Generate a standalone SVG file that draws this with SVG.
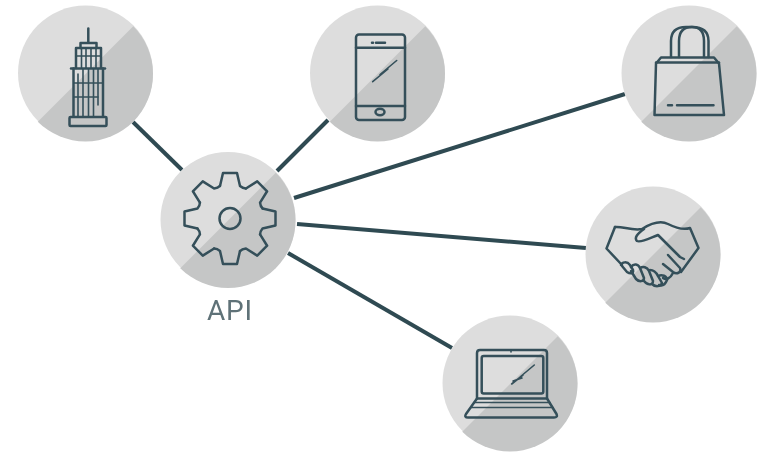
<svg xmlns="http://www.w3.org/2000/svg" xmlns:xlink="http://www.w3.org/1999/xlink" width="761" height="452" viewBox="0 0 761 452">
<style>
.lt{fill:#dddddd}.dk{fill:#c5c6c6}
.ic{fill:none;stroke:#34505a;stroke-width:2.5;stroke-linecap:round;stroke-linejoin:round;filter:url(#soft)}
.thin{stroke-width:1.6}
.conn{stroke:#2f4a52;stroke-width:4;fill:none}
.lbl{font-family:Roboto,"Liberation Sans",sans-serif;font-weight:400;font-size:28px;letter-spacing:.8px;fill:#5f7278;text-anchor:middle;filter:url(#soft)}
</style>
<defs>
<filter id="soft" x="-10%" y="-10%" width="120%" height="120%"><feGaussianBlur stdDeviation="0.5"/></filter>
<clipPath id="disc"><circle r="67.5"/></clipPath>
<g id="bg">
<circle class="lt" r="67.5"/>
<path class="dk" clip-path="url(#disc)" d="M70,-70L-70,70L-70,80L80,80L80,-70Z" transform="translate(0,1)"/>
</g>
<path id="tooth" d="M-10,-32.5L-7,-45.5L7,-45.5L10,-32.5Q13,-30 15.9,-30.1"/>
</defs>
<rect width="761" height="452" fill="#ffffff"/>
<g id="connectors">
<line class="conn" x1="133" y1="122" x2="182" y2="170"/>
<line class="conn" x1="328" y1="120" x2="277" y2="171"/>
<line class="conn" x1="625" y1="94" x2="294" y2="198"/>
<line class="conn" x1="586" y1="248" x2="297" y2="224"/>
<line class="conn" x1="452" y1="348" x2="288" y2="253"/>
</g>
<g id="node-building" transform="translate(85.5,73)"><use href="#bg"/>
<g class="ic" transform="translate(-85.5,-73)">
<path d="M88.3,28.5V42.5"/>
<path d="M80.5,48V43H96.5V48"/>
<path d="M76,68V48H101V68"/>
<path d="M71,68.5H105"/>
<path d="M73.5,68.5V116.5M103,68.5V116.5"/>
<rect x="69.5" y="117" width="37" height="9" rx="1"/>
<g class="thin">
<path d="M81.5,48V68M86,48V68M91,48V68M96,48V68M76,56H101"/>
<path d="M78,74V116M83,69V116M88.5,69V116M93.5,69V116M98,69V105"/>
<path d="M74,83H103M74,97H98"/>
</g></g></g>
<g id="node-phone" transform="translate(377.5,73)"><use href="#bg"/>
<g class="ic" transform="translate(-377.5,-73)">
<rect x="356" y="34.5" width="49" height="85.5" rx="3"/>
<path d="M356,47.7H405M356,106H405"/>
<path d="M372,42.7H373M376,42.7H385"/>
<ellipse cx="380" cy="112" rx="4.5" ry="3.2"/>
<g class="thin"><path d="M372.7,81.7L388,69M380,74.5L396.7,60.5"/></g>
</g></g>
<g id="node-bag" transform="translate(689,73)"><use href="#bg"/>
<g class="ic" transform="translate(-689,-73)">
<path d="M654.5,115L656,63.5L661,57.5H714L719,63.5L724,115Z"/>
<path d="M656,62.5H719"/>
<path d="M671,57V41C671,31 677,27 686,27H692C700,27 704,32 704,41V57"/>
<path d="M679,57V41C679,32 683,27 692,27C703,27 708.5,32 708.5,41V57"/>
<path d="M668,105.3H672M677,105.3H713.5"/>
</g></g>
<g id="node-api" transform="translate(228,219.5)"><use href="#bg"/>
<g class="ic" transform="translate(2,-1)">
<use href="#tooth"/><use href="#tooth" transform="rotate(45)"/><use href="#tooth" transform="rotate(90)"/><use href="#tooth" transform="rotate(135)"/><use href="#tooth" transform="rotate(180)"/><use href="#tooth" transform="rotate(225)"/><use href="#tooth" transform="rotate(270)"/><use href="#tooth" transform="rotate(315)"/>
<circle r="10.5"/>
</g>
<text class="lbl" x="2" y="100">API</text></g>
<g id="node-handshake" transform="translate(653,254)"><use href="#bg"/>
<g class="ic" transform="translate(-653,-254)">
<path d="M615,227L606.5,248.5L622,265"/>
<path d="M615,227C622,226 632,231 642,229C650,224 660,220 668,224C676,228 684,230 690,228L698.5,248L681,272"/>
<path d="M644,229C637,234 634,238 637,241C641,243 650,238 658,235L680,257L684,259"/>
<path d="M668,255L680,268C682,272 677,275 673,272L663,264"/>
<path d="M673,273C670,279 666,280 663,278"/>
<path d="M621,265C622,262 627,261 630,265L633,270C634,274 630,274 627,272L622,266"/>
<path d="M631,267C634,263 638,264 640,268L644,278C644,282 639,282 636,279L631,271"/>
<path d="M640,268C643,266 647,267 649,271L653,281C653,286 647,285 644,281"/>
<path d="M650,270C653,270 656,272 658,276L662,283C661,287 655,287 652,284"/>
<path d="M658,276C662,274 667,276 667,280C665,285 662,286 659,285"/>
</g></g>
<g id="node-laptop" transform="translate(510,383)"><use href="#bg"/>
<g class="ic" transform="translate(-510,-383)">
<path d="M477,398.5V353Q477,350 480,350H544Q547,350 547,353V398.5"/>
<rect x="481.7" y="356" width="61.6" height="37.5" rx="2"/>
<path d="M477,398.5H547L556.5,414Q558,417.5 554,417.5H468Q464,417.5 466,414Z"/>
<g class="thin">
<path d="M474,402.5H550M471,407.5H553"/>
<path d="M511.7,384L523,375M520,377L534.3,365M513,381L522,378"/>
</g>
<path d="M511,350V352" class="thin"/>
</g></g>
</svg>
